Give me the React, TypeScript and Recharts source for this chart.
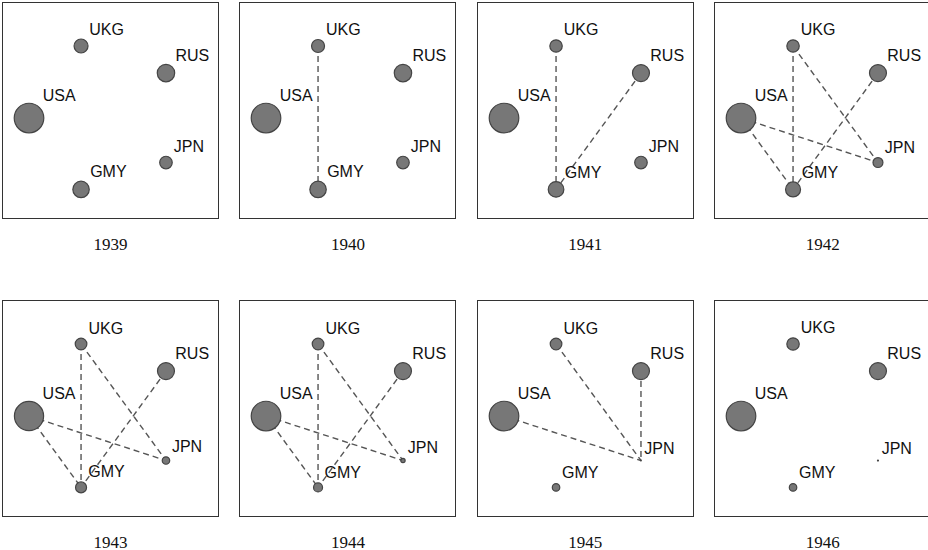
import { ScatterChart, Scatter, XAxis, YAxis, ZAxis } from "recharts";

// graph layout (data units, 0-100 on both axes, y measured from the top)
const COUNTRIES = ["USA", "UKG", "RUS", "JPN", "GMY"];
const LAYOUT_X = [12.1, 36.3, 75.8, 75.8, 36.3];
const LAYOUT_Y = [53.5, 20.0, 32.6, 74.2, 86.7];

const YEARS = [1939, 1940, 1941, 1942, 1943, 1944, 1945, 1946];

// relative power per year, order as COUNTRIES
const POWER: number[][] = [
  [234, 56, 85, 46, 76],
  [234, 49, 85, 46, 76],
  [234, 45, 81, 46, 69],
  [234, 45, 81, 30, 64],
  [228, 40, 81, 18, 36],
  [234, 40, 81, 7, 25],
  [234, 40, 81, 0.3, 18],
  [234, 45, 81, 1, 18],
];

// wars per year
const WARS: [string, string][][] = [
  [],
  [["UKG", "GMY"]],
  [
    ["UKG", "GMY"],
    ["RUS", "GMY"],
  ],
  [
    ["UKG", "GMY"],
    ["RUS", "GMY"],
    ["USA", "GMY"],
    ["USA", "JPN"],
    ["UKG", "JPN"],
  ],
  [
    ["UKG", "GMY"],
    ["RUS", "GMY"],
    ["USA", "GMY"],
    ["USA", "JPN"],
    ["UKG", "JPN"],
  ],
  [
    ["UKG", "GMY"],
    ["RUS", "GMY"],
    ["USA", "GMY"],
    ["USA", "JPN"],
    ["UKG", "JPN"],
  ],
  [
    ["UKG", "JPN"],
    ["USA", "JPN"],
    ["RUS", "JPN"],
  ],
  [],
];

const SIZE = 215;
const COL_STEP = 237.4;
const ROW_TOP = [2, 300];

function NodeShape(props: any) {
  const { cx, cy, payload } = props;
  const r =
    props.width != null
      ? props.width / 2
      : Math.sqrt(Math.max(props.size ?? 0, 0) / Math.PI);
  return (
    <g>
      <circle
        cx={cx}
        cy={cy}
        r={Math.max(r - 0.5, 0.4)}
        fill="#777"
        stroke="#444"
        strokeWidth={1.2}
      />
      <text
        x={cx + 0.7 * r + 3}
        y={cy - 0.7 * r - 6}
        fontFamily="Liberation Sans, Arial, sans-serif"
        fontSize={16}
        fill="#111"
      >
        {payload.name}
      </text>
    </g>
  );
}

function Panel({ index }: { index: number }) {
  const nodes = COUNTRIES.map((name, i) => ({
    name,
    x: LAYOUT_X[i],
    y: LAYOUT_Y[i],
    power: POWER[index][i],
  }));
  const byName = (n: string) => nodes.find((d) => d.name === n)!;
  const left = 2 + (index % 4) * COL_STEP;
  const top = ROW_TOP[Math.floor(index / 4)];

  return (
    <>
      <div
        style={{
          position: "absolute",
          left,
          top,
          width: SIZE,
          height: SIZE,
          border: "1px solid #333",
          background: "#fff",
        }}
      >
        <ScatterChart
          width={SIZE}
          height={SIZE}
          margin={{ top: 0, right: 0, bottom: 0, left: 0 }}
        >
          <XAxis type="number" dataKey="x" domain={[0, 100]} hide />
          <YAxis type="number" dataKey="y" domain={[0, 100]} reversed hide />
          <ZAxis
            type="number"
            dataKey="power"
            domain={[0, 250]}
            range={[0, 250 * Math.PI]}
          />
          {WARS[index].map(([a, b]) => (
            <Scatter
              key={a + b}
              data={[byName(a), byName(b)]}
              line={{ stroke: "#555", strokeWidth: 1.4, strokeDasharray: "6 4" }}
              lineType="joint"
              shape={() => <g />}
              isAnimationActive={false}
            />
          ))}
          <Scatter data={nodes} shape={NodeShape} isAnimationActive={false} />
        </ScatterChart>
      </div>
      <div
        style={{
          position: "absolute",
          left,
          top: top + 235.5,
          width: SIZE + 2,
          height: 13,
          textAlign: "center",
          fontFamily: "Liberation Serif, serif",
          fontSize: 17,
          lineHeight: "13px",
          color: "#111",
        }}
      >
        {YEARS[index]}
      </div>
    </>
  );
}

export default function App() {
  return (
    <div
      style={{
        position: "absolute",
        left: 0,
        top: 0,
        width: 928,
        height: 550,
        overflow: "hidden",
        background: "#fff",
      }}
    >
      {YEARS.map((y, i) => (
        <Panel key={y} index={i} />
      ))}
    </div>
  );
}
